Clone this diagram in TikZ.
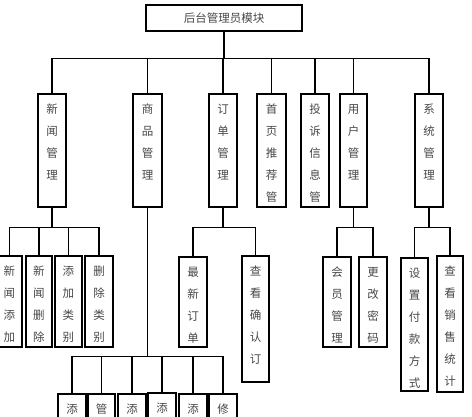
\documentclass[tikz,border=0pt]{standalone}
\usepackage{fontspec}
\newfontfamily\cjk{Noto Sans CJK SC}
\usetikzlibrary{fit,calc}
\tikzset{
  box/.style={draw=black, line width=1.2pt, inner sep=0pt, fill=white},
  ch/.style={inner sep=0pt, text=black!72, font=\cjk\fontsize{11.5}{12}\selectfont},
  conn/.style={draw=black, line width=1.2pt}
}
\newcommand\vbx[6]{%
  \coordinate (#1-a) at (#2,#3);
  \coordinate (#1-b) at (#4,#5);
  \node[box, fit=(#1-a)(#1-b)] (#1) {};
  \begin{scope}
    \clip (#1-a) rectangle (#1-b);
    \foreach \c [count=\i] in {#6}
      \node[ch] (#1-\i) at ($(#1.north)+(0,{16+22*(\i-1)})$) {\c};
  \end{scope}
}
\begin{document}
\begin{tikzpicture}[x=1pt,y=-1pt]
\useasboundingbox (0,0) rectangle (472,417);
\clip (0,0) rectangle (472,417);
% top
\coordinate (top-a) at (146,5);
\coordinate (top-b) at (302,31);
\node[box, fit=(top-a)(top-b)] (top) {};
\node[ch] (toptext) at (top.center) {后台管理员模块};
% row 2
\vbx{xw}{38}{94}{66}{207}{新,闻,管,理}
\vbx{sp}{133}{94}{162}{207}{商,品,管,理}
\vbx{dd}{209}{94}{237}{207}{订,单,管,理}
\vbx{sy}{257}{94}{286}{207}{首,页,推,荐,管}
\vbx{ts}{301}{94}{329}{207}{投,诉,信,息,管}
\vbx{yh}{340}{94}{367}{207}{用,户,管,理}
\vbx{xt}{415}{94}{443}{207}{系,统,管,理}
% row 3 news
\vbx{xw1}{-3}{256}{22}{347}{新,闻,添,加}
\vbx{xw2}{26}{256}{52}{347}{新,闻,删,除}
\vbx{xw3}{55}{256}{82}{347}{添,加,类,别}
\vbx{xw4}{85}{256}{113}{347}{删,除,类,别}
% orders
\vbx{dd1}{179}{257}{207}{347}{最,新,订,单}
\vbx{dd2}{242}{256}{269}{382}{查,看,确,认,订}
% users
\vbx{yh1}{323}{257}{351}{347}{会,员,管,理}
\vbx{yh2}{359}{257}{387}{347}{更,改,密,码}
% system
\vbx{xt1}{401}{258}{428}{391}{设,置,付,款,方,式}
\vbx{xt2}{437}{256}{463}{392}{查,看,销,售,统,计}
% goods children
\vbx{sp1}{58}{394}{86}{470}{添,加}
\vbx{sp2}{88}{394}{115}{470}{管,理}
\vbx{sp3}{118}{394}{146}{470}{添,加}
\vbx{sp4}{148}{393}{176}{470}{添,加}
\vbx{sp5}{179}{394}{207}{470}{添,加}
\vbx{sp6}{209}{394}{237}{470}{修,改}
% connectors
\foreach \n in {xw,sp,dd,sy,ts,yh,xt}
  \draw[conn] (top.south) -- ++(0,27) -| (\n.north);
\foreach \n in {xw1,xw2,xw3,xw4}
  \draw[conn] (xw.south) -- ++(0,20) -| (\n.north);
\foreach \n in {dd1,dd2}
  \draw[conn] (dd.south) -- ++(0,20) -| (\n.north);
\foreach \n in {yh1,yh2}
  \draw[conn] (yh.south) -- ++(0,20) -| (\n.north);
\foreach \n in {xt1,xt2}
  \draw[conn] (xt.south) -- ++(0,20) -| (\n.north);
\foreach \n in {sp1,sp2,sp3,sp4,sp5,sp6}
  \draw[conn] (sp.south) -- ++(0,149) -| (\n.north);
\end{tikzpicture}
\end{document}
